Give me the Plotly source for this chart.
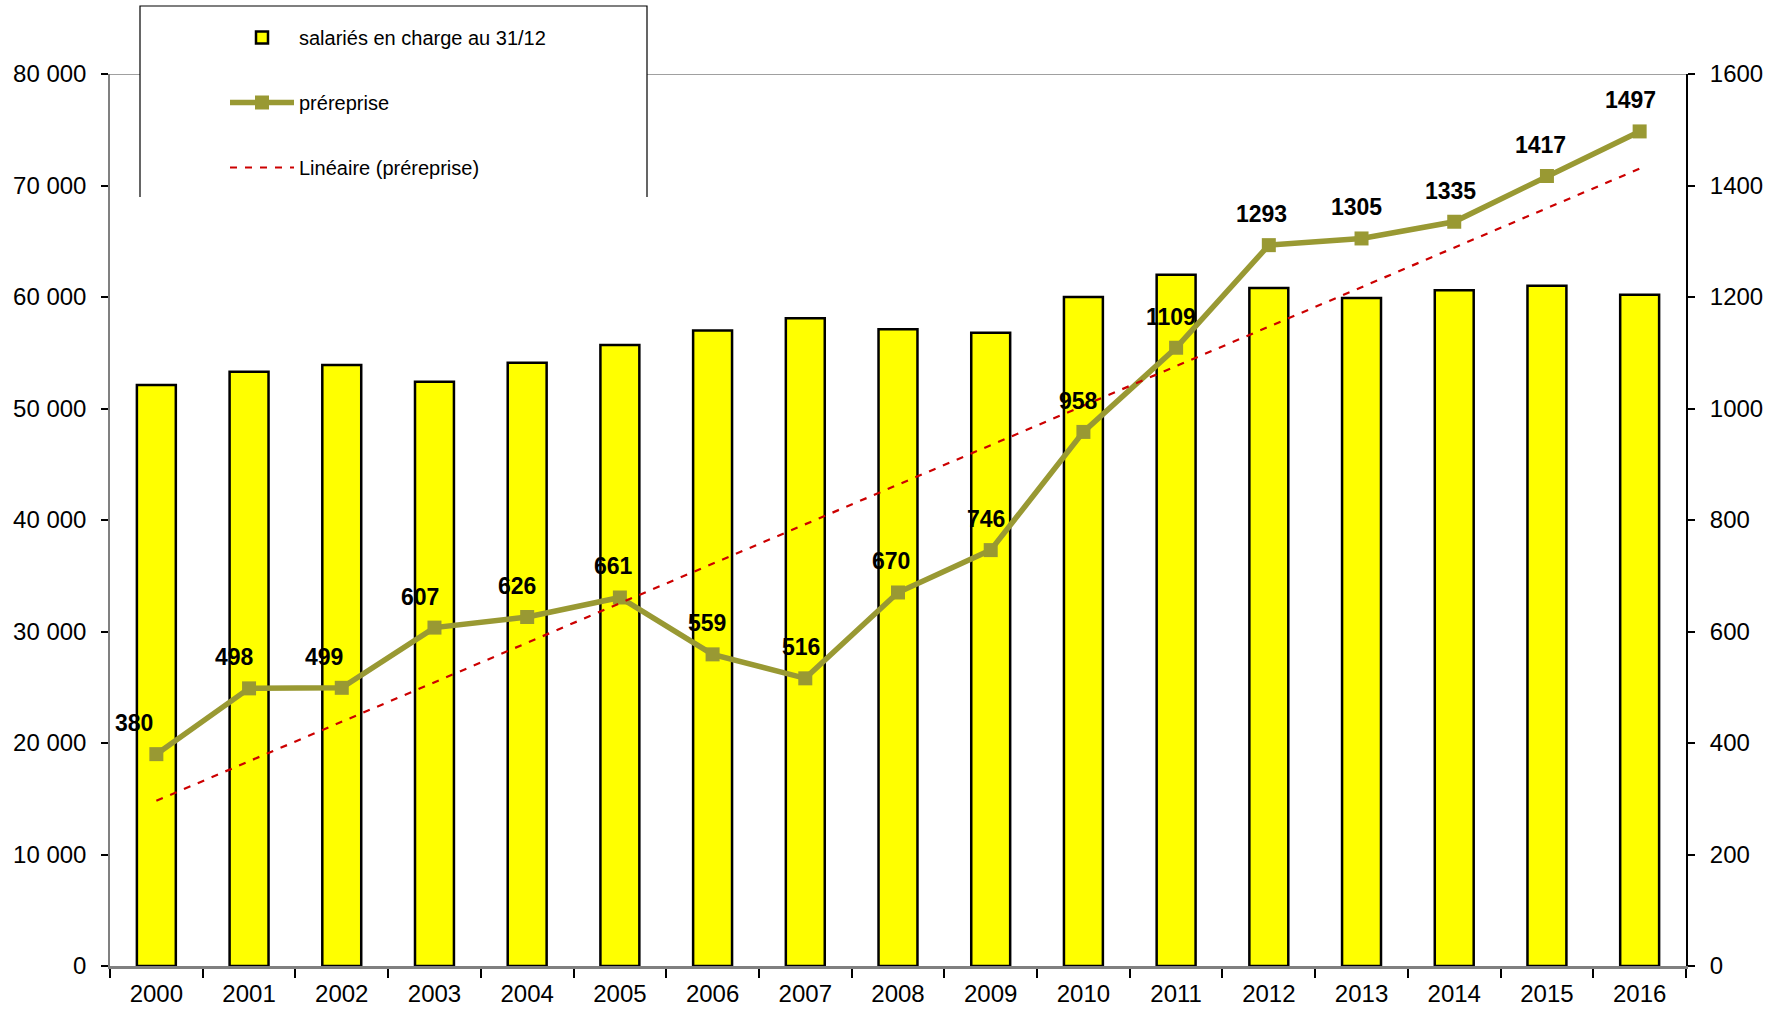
import numpy as np
import plotly.graph_objects as go

years = ["2000", "2001", "2002", "2003", "2004", "2005", "2006", "2007", "2008",
         "2009", "2010", "2011", "2012", "2013", "2014", "2015", "2016"]
salaries = [52100, 53300, 53900, 52400, 54100, 55700, 57000, 58100, 57100,
            56800, 60000, 62000, 60800, 59900, 60600, 61000, 60200]
prereprise = [380, 498, 499, 607, 626, 661, 559, 516, 670,
              746, 958, 1109, 1293, 1305, 1335, 1417, 1497]
left_tickvals = [0, 10000, 20000, 30000, 40000, 50000, 60000, 70000, 80000]
left_ticktext = ["0", "10 000", "20 000", "30 000", "40 000", "50 000",
                 "60 000", "70 000", "80 000"]
right_tickvals = [0, 200, 400, 600, 800, 1000, 1200, 1400, 1600]

# horizontal nudges (px) of the value labels, as placed in the original
label_xshift = [-22, -15, -18, -14, -10, -6, -6, -4, -7, -5, -5, -5, -7, -5, -4, -6, -9]

# Excel-style linear trendline of "préreprise"
idx = np.arange(len(prereprise))
slope, intercept = np.polyfit(idx, prereprise, 1)
trend = [float(v) for v in intercept + slope * idx]

FONT = "Liberation Sans, Arial, sans-serif"
OLIVE = "#999933"
W, H = 1786, 1010
L, R, T, B = 110, 100, 74, 44
PW, PH = W - L - R, H - T - B

fig = go.Figure()
fig.add_trace(go.Bar(
    x=years, y=salaries, name="salariés en charge au 31/12",
    marker=dict(color="#FFFF00", line=dict(color="black", width=2.5)),
    legendgroup="a", yaxis="y"))
fig.add_trace(go.Scatter(
    x=years, y=prereprise, name="préreprise", mode="lines+markers",
    line=dict(color=OLIVE, width=5.5),
    marker=dict(symbol="square", size=14, color=OLIVE),
    legendgroup="b", yaxis="y2"))
fig.add_trace(go.Scatter(
    x=years, y=trend, name="Linéaire (préreprise)", mode="lines",
    line=dict(color="#CC0000", width=2.2, dash="7px,8px"),
    legendgroup="c", yaxis="y2"))

for i, v in enumerate(prereprise):
    fig.add_annotation(x=i, y=v, xref="x", yref="y2", text=str(v),
                       showarrow=False, xshift=label_xshift[i], yshift=31,
                       font=dict(family=FONT, size=23, color="black", weight="bold"))

# legend frame (open at the bottom), white fill hides the top line
x0 = (140 - L) / PW
x1 = (647 - L) / PW
yt = (H - B - 6) / PH
yb = (H - B - 197) / PH
fig.add_shape(type="line", xref="paper", yref="y", x0=0, x1=1, y0=80000, y1=80000,
              line=dict(color="#808080", width=1.5), layer="above")
fig.add_shape(type="path", xref="paper", yref="paper",
              path=f"M{x0},{yb} L{x0},{yt} L{x1},{yt} L{x1},{yb}",
              fillcolor="white", line=dict(color="black", width=1.2), layer="above")

fig.update_layout(
    width=W, height=H,
    margin=dict(l=L, r=R, t=T, b=B, autoexpand=False),
    paper_bgcolor="white", plot_bgcolor="white",
    font=dict(family=FONT, size=22, color="black"),
    bargap=0.58,
    showlegend=True,
    legend=dict(xref="container", yref="container",
                x=225 / W, xanchor="left", y=1 - 18 / H, yanchor="top",
                bgcolor="rgba(0,0,0,0)", borderwidth=0,
                font=dict(family=FONT, size=20, color="black"),
                traceorder="grouped", tracegroupgap=36, itemwidth=64),
    xaxis=dict(type="category", range=[-0.5, len(years) - 0.5], autorange=False,
               automargin=False, showgrid=False, zeroline=False,
               showline=True, linecolor="#808080", linewidth=2.5, tickangle=0,
               ticks="outside", tickson="boundaries", ticklen=9, tickwidth=1.5,
               tickcolor="black", ticklabelstandoff=4,
               tickfont=dict(family=FONT, size=24, color="black")),
    yaxis=dict(range=[0, 80000], tickvals=left_tickvals, ticktext=left_ticktext,
               automargin=False, showgrid=False, zeroline=False, showline=True,
               linecolor="#808080", linewidth=1.5, ticks="outside", ticklen=7,
               tickwidth=2, tickcolor="black", ticklabelstandoff=10,
               tickfont=dict(family=FONT, size=24, color="black")),
    yaxis2=dict(range=[0, 1600], tickvals=right_tickvals, overlaying="y", side="right",
                automargin=False, showgrid=False, zeroline=False, showline=True,
                linecolor="black", linewidth=2, ticks="outside", ticklen=7, tickwidth=2,
                tickcolor="black", ticklabelstandoff=10,
                tickfont=dict(family=FONT, size=24, color="black")),
)

fig.write_html("out.html", config={"displayModeBar": False},
               post_script="document.body.style.margin='0';document.body.style.overflow='hidden';")
